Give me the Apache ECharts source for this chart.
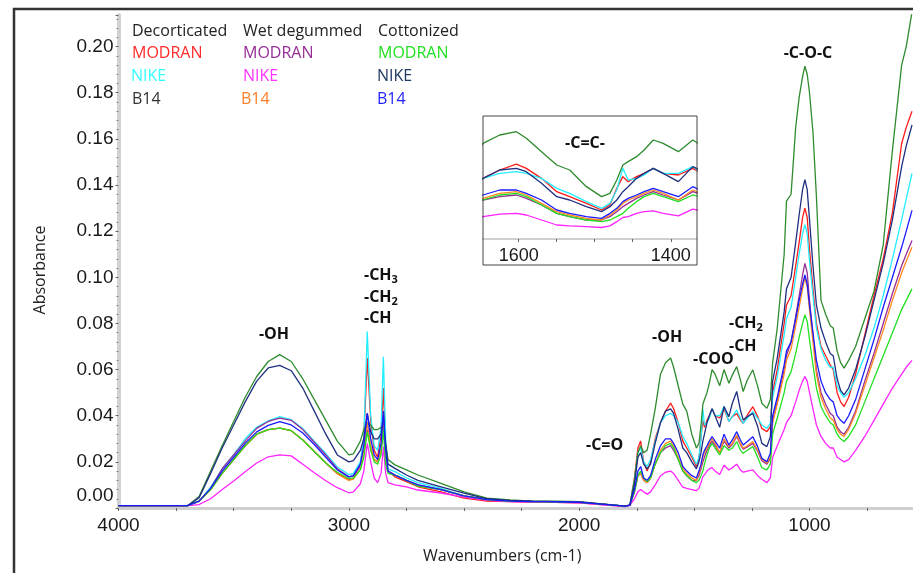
<!DOCTYPE html>
<html><head><meta charset="utf-8">
<script src="https://cdn.jsdelivr.net/npm/echarts@6/dist/echarts.min.js"></script>
<style>html,body{margin:0;padding:0;background:#fff}#c{width:913px;height:573px}</style>
</head><body><div id="c"></div>
<script>
// ---- DATA ----
const wavenumbers = [4000,3800,3700,3650,3600,3550,3500,3450,3400,3350,3300,3250,3200,3150,3100,3050,3000,
2980,2950,2935,2920,2905,2890,2875,2860,2850,2840,2830,
2800,2750,2700,2600,2500,2400,2300,2200,2100,2000,1900,1800,1780,
1760,1745,1733,1720,1705,1690,1670,
1647,1625,1603,1590,1570,1550,1533,1511,1491,1480,1471,1463,1456,1445,1435,1423,1410,1390,1371,
1350,1335,1316,1300,1288,1270,1246,1225,1207,1185,1170,
1160,1140,1110,1100,1080,1060,1045,1030,1020,1010,1000,985,970,950,930,910,897,880,865,850,830,800,760,720,680,640,600,580,555];

const decorticatedModran = [0.001,0.001,0.001,0.003,0.008,0.015,0.021,0.027,0.032,0.034,0.0346,0.0335,0.0295,0.0245,0.0195,0.015,0.0122,
0.013,0.019,0.030,0.065,0.038,0.025,0.022,0.032,0.052,0.026,0.016,
0.0135,0.0114,0.0092,0.007,0.0043,0.003,0.0028,0.0025,0.0025,0.0022,0.0015,0.0008,0.0012,
0.013,0.026,0.029,0.020,0.016,0.020,0.030,
0.037,0.042,0.0455,0.043,0.037,0.029,0.026,0.022,0.018,0.021,0.031,0.038,0.035,0.038,0.040,0.043,0.040,0.039,0.043,
0.0375,0.0396,0.041,0.0382,0.0367,0.0403,0.0439,0.0396,0.0345,0.0331,0.0353,
0.050,0.060,0.080,0.088,0.092,0.105,0.115,0.126,0.130,0.126,0.112,0.095,0.080,0.070,0.066,0.062,0.060,0.050,0.046,0.044,0.048,0.058,0.075,0.092,0.108,0.128,0.158,0.165,0.172];

const decorticatedNike = [0.001,0.001,0.001,0.003,0.009,0.017,0.023,0.030,0.035,0.0378,0.0396,0.0383,0.0345,0.029,0.0236,0.0178,0.0145,
0.015,0.020,0.030,0.0765,0.040,0.027,0.025,0.035,0.0656,0.030,0.017,
0.0158,0.013,0.011,0.0085,0.0053,0.0036,0.003,0.0028,0.0027,0.0025,0.0017,0.0008,0.0012,
0.012,0.024,0.026,0.020,0.018,0.021,0.029,
0.037,0.040,0.041,0.040,0.037,0.031,0.028,0.023,0.019,0.022,0.030,0.043,0.036,0.037,0.039,0.043,0.040,0.040,0.044,
0.0375,0.0396,0.0425,0.0389,0.0367,0.0389,0.0418,0.0389,0.036,0.0345,0.0367,
0.048,0.057,0.075,0.082,0.087,0.100,0.110,0.119,0.1228,0.119,0.107,0.092,0.078,0.069,0.064,0.061,0.061,0.053,0.050,0.048,0.050,0.056,0.066,0.078,0.092,0.108,0.125,0.134,0.145];

const decorticatedB14 = [0.001,0.001,0.001,0.005,0.016,0.027,0.0375,0.048,0.057,0.0635,0.0665,0.0635,0.056,0.047,0.038,0.029,0.023,
0.0235,0.029,0.034,0.037,0.036,0.034,0.034,0.035,0.034,0.028,0.021,
0.0187,0.0165,0.0143,0.0107,0.007,0.0043,0.0035,0.003,0.003,0.0028,0.0018,0.0008,0.0012,
0.012,0.024,0.027,0.024,0.025,0.032,0.043,
0.058,0.063,0.065,0.061,0.053,0.045,0.042,0.032,0.026,0.028,0.036,0.045,0.047,0.050,0.054,0.060,0.058,0.053,0.060,
0.0541,0.0577,0.0613,0.0555,0.0505,0.0555,0.0599,0.0527,0.0454,0.0432,0.0469,
0.063,0.078,0.110,0.133,0.136,0.165,0.178,0.187,0.1915,0.188,0.180,0.163,0.135,0.090,0.084,0.079,0.078,0.068,0.063,0.0606,0.064,0.070,0.082,0.094,0.114,0.155,0.192,0.200,0.215];

const wetModran = [0.001,0.001,0.001,0.003,0.0085,0.017,0.023,0.029,0.0345,0.0375,0.039,0.038,0.034,0.0285,0.023,0.017,0.0135,
0.014,0.018,0.024,0.034,0.026,0.021,0.020,0.025,0.035,0.022,0.016,
0.0143,0.012,0.010,0.008,0.0053,0.0036,0.003,0.0028,0.0027,0.0025,0.0017,0.0008,0.0012,
0.007,0.014,0.015,0.012,0.011,0.013,0.019,
0.024,0.026,0.027,0.025,0.021,0.016,0.014,0.012,0.012,0.014,0.017,0.020,0.022,0.025,0.027,0.029,0.027,0.024,0.029,
0.026,0.0275,0.031,0.0275,0.0255,0.0265,0.028,0.0245,0.0205,0.019,0.0215,
0.038,0.046,0.060,0.066,0.072,0.083,0.092,0.101,0.106,0.102,0.090,0.075,0.060,0.050,0.045,0.041,0.040,0.035,0.033,0.032,0.035,0.042,0.055,0.067,0.080,0.093,0.105,0.110,0.116];

const wetNike = [0.001,0.001,0.001,0.0015,0.004,0.008,0.0117,0.0157,0.0195,0.0222,0.023,0.0226,0.019,0.0153,0.0118,0.0088,0.0066,
0.007,0.0105,0.016,0.028,0.020,0.013,0.011,0.015,0.0266,0.015,0.011,
0.010,0.0092,0.0078,0.0065,0.0047,0.0033,0.0028,0.0026,0.0025,0.0022,0.0014,0.0006,0.001,
0.004,0.007,0.008,0.007,0.006,0.007,0.010,
0.014,0.0155,0.016,0.015,0.012,0.009,0.0085,0.008,0.0075,0.0085,0.011,0.0135,0.014,0.016,0.017,0.0175,0.016,0.0145,0.0185,
0.0165,0.0175,0.019,0.0165,0.0155,0.016,0.0165,0.014,0.0125,0.011,0.013,
0.022,0.027,0.034,0.037,0.040,0.046,0.051,0.055,0.057,0.055,0.050,0.043,0.036,0.031,0.028,0.026,0.026,0.022,0.021,0.020,0.021,0.025,0.031,0.038,0.045,0.052,0.058,0.061,0.064];

const wetB14 = [0.001,0.001,0.001,0.003,0.008,0.015,0.021,0.027,0.032,0.034,0.0346,0.0335,0.0295,0.0245,0.0195,0.0148,0.012,
0.0125,0.017,0.024,0.037,0.027,0.021,0.020,0.025,0.038,0.022,0.016,
0.0143,0.012,0.0095,0.008,0.0053,0.0036,0.003,0.0028,0.0027,0.0025,0.0017,0.0008,0.0012,
0.007,0.014,0.015,0.012,0.011,0.013,0.019,
0.025,0.028,0.029,0.027,0.022,0.017,0.015,0.013,0.012,0.015,0.018,0.022,0.024,0.026,0.028,0.030,0.028,0.024,0.030,
0.0266,0.028,0.0316,0.028,0.0259,0.027,0.0288,0.025,0.021,0.0195,0.022,
0.037,0.045,0.058,0.064,0.069,0.079,0.087,0.095,0.0998,0.096,0.086,0.072,0.058,0.048,0.043,0.039,0.038,0.034,0.032,0.031,0.034,0.041,0.053,0.065,0.077,0.090,0.102,0.107,0.113];

const cottonizedModran = [0.001,0.001,0.001,0.003,0.008,0.015,0.021,0.027,0.032,0.034,0.0346,0.0335,0.0295,0.0245,0.0195,0.0155,0.0128,
0.013,0.0165,0.022,0.033,0.025,0.020,0.019,0.023,0.034,0.019,0.015,
0.0143,0.012,0.0095,0.008,0.0053,0.0036,0.003,0.0028,0.0027,0.0025,0.0017,0.0008,0.0012,
0.007,0.014,0.016,0.013,0.0115,0.013,0.019,
0.024,0.027,0.028,0.026,0.021,0.016,0.014,0.012,0.011,0.012,0.014,0.016,0.019,0.023,0.026,0.028,0.026,0.023,0.027,
0.025,0.026,0.0288,0.025,0.0237,0.025,0.0266,0.022,0.0175,0.0165,0.019,
0.032,0.039,0.050,0.055,0.059,0.067,0.074,0.080,0.0837,0.081,0.073,0.062,0.052,0.044,0.040,0.037,0.036,0.032,0.030,0.0288,0.031,0.036,0.046,0.056,0.066,0.076,0.086,0.090,0.095];

const cottonizedNike = [0.001,0.001,0.001,0.0045,0.015,0.026,0.036,0.046,0.055,0.0607,0.0618,0.0595,0.052,0.042,0.032,0.023,0.020,
0.0205,0.025,0.030,0.041,0.033,0.030,0.030,0.032,0.040,0.027,0.019,
0.0172,0.0143,0.012,0.0092,0.0064,0.004,0.0033,0.003,0.0028,0.0026,0.0017,0.0008,0.0012,
0.010,0.022,0.024,0.019,0.017,0.019,0.028,
0.037,0.042,0.043,0.041,0.034,0.026,0.024,0.020,0.017,0.020,0.024,0.029,0.032,0.037,0.040,0.043,0.040,0.035,0.044,
0.0396,0.0454,0.0505,0.0425,0.0382,0.0396,0.041,0.0353,0.028,0.0266,0.0309,
0.055,0.065,0.085,0.095,0.100,0.115,0.127,0.138,0.1423,0.138,0.125,0.105,0.088,0.078,0.072,0.067,0.066,0.056,0.051,0.049,0.052,0.060,0.074,0.090,0.106,0.125,0.148,0.157,0.166];

const cottonizedB14 = [0.001,0.001,0.001,0.003,0.0085,0.016,0.022,0.028,0.033,0.0358,0.0374,0.036,0.0325,0.0275,0.022,0.0165,0.0135,
0.014,0.019,0.027,0.041,0.030,0.023,0.021,0.028,0.042,0.025,0.016,
0.0143,0.012,0.010,0.008,0.0053,0.0036,0.003,0.0028,0.0027,0.0025,0.0017,0.0008,0.0012,
0.008,0.016,0.018,0.013,0.012,0.014,0.021,
0.027,0.030,0.030,0.028,0.024,0.018,0.016,0.014,0.013,0.016,0.019,0.023,0.025,0.027,0.029,0.031,0.029,0.026,0.032,
0.0273,0.0295,0.0331,0.0295,0.0273,0.0288,0.0309,0.0266,0.0215,0.0201,0.0237,
0.040,0.048,0.062,0.068,0.072,0.082,0.090,0.097,0.101,0.097,0.088,0.076,0.064,0.055,0.050,0.047,0.046,0.040,0.038,0.0367,0.040,0.047,0.060,0.073,0.087,0.100,0.113,0.120,0.129];

const xTickLabels = [4000, 3000, 2000, 1000];
const xTickMarks = [4000,3750,3500,3250,3000,2750,2500,2250,2000,1750,1500,1250,1000,750];
const insetTickLabels = [1600, 1400];
const insetTickMarks = [1600, 1550, 1500, 1450, 1400];

// ---- SERIES DEFINITIONS ----
const seriesDefs = [
  {name:'Decorticated MODRAN', data: decorticatedModran, color:'#ff1a1a'},
  {name:'Decorticated NIKE', data: decorticatedNike, color:'#22eeff'},
  {name:'Decorticated B14', data: decorticatedB14, color:'#2e8b2e'},
  {name:'Wet degummed MODRAN', data: wetModran, color:'#962d96'},
  {name:'Wet degummed NIKE', data: wetNike, color:'#ff22ff'},
  {name:'Wet degummed B14', data: wetB14, color:'#ff8a1f'},
  {name:'Cottonized MODRAN', data: cottonizedModran, color:'#22e022'},
  {name:'Cottonized NIKE', data: cottonizedNike, color:'#1f2f80'},
  {name:'Cottonized B14', data: cottonizedB14, color:'#1a1aff'}
];

const pairs = arr => wavenumbers.map((w, i) => [w, arr[i]]);
const series = [];
seriesDefs.forEach(d => {
  series.push({type:'line', name:d.name, data:pairs(d.data), showSymbol:false, xAxisIndex:0, yAxisIndex:0,
    lineStyle:{color:d.color, width:1.3}, itemStyle:{color:d.color}, clip:true, silent:true});
});
seriesDefs.forEach(d => {
  series.push({type:'line', name:d.name + ' (inset)', data:pairs(d.data), showSymbol:false, xAxisIndex:1, yAxisIndex:1,
    lineStyle:{color:d.color, width:1.3}, itemStyle:{color:d.color}, clip:true, silent:true});
});

const axisFont = '"Liberation Sans", Arial, sans-serif';
const txtFont = '"Open Sans", sans-serif';

function label(x, y, text, color, extra) {
  return Object.assign({type:'text', x:x, y:y, z:100,
    style:{text:text, fill:color, font:'16px ' + txtFont, align:'left', verticalAlign:'middle'}}, extra || {});
}
const bold = '700 16px ' + txtFont;
function ann(x, y, text, align) {
  return {type:'text', x:x, y:y, z:100, style:{text:text, fill:'#111', font:bold, align:align||'left', verticalAlign:'middle',
    rich:{a:{font:bold, fill:'#111'}, s:{font:'700 11px ' + txtFont, fill:'#111', verticalAlign:'bottom', padding:[9,0,0,0]}}}};
}

const graphics = [
  {type:'rect', shape:{x:14, y:9, width:1000, height:1000}, style:{fill:'none', stroke:'#333', lineWidth:2.5}, z:100},
  {type:'rect', shape:{x:483, y:116, width:214, height:149}, style:{fill:'none', stroke:'#444', lineWidth:1}, z:100},
  label(132, 31, 'Decorticated', '#222'),
  label(243, 31, 'Wet degummed', '#222'),
  label(378, 31, 'Cottonized', '#222'),
  label(132, 53, 'MODRAN', '#ff2a2a'),
  label(243, 53, 'MODRAN', '#962d96'),
  label(378, 53, 'MODRAN', '#22e022'),
  label(131, 76, 'NIKE', '#33ffff'),
  label(243, 76, 'NIKE', '#ff33ff'),
  label(377, 76, 'NIKE', '#203864'),
  label(132, 99, 'B14', '#333'),
  label(241, 99, 'B14', '#ff7f27'),
  label(377, 99, 'B14', '#1f1fff'),
  ann(274, 334, '-OH', 'center'),
  ann(364, 275, '{a|-CH}{s|3}'),
  ann(364, 297, '{a|-CH}{s|2}'),
  ann(364, 318, '-CH'),
  ann(586, 445, '-C=O'),
  ann(652, 337, '-OH'),
  ann(693, 359, '-COO'),
  ann(729, 323, '{a|-CH}{s|2}'),
  ann(729, 346, '-CH'),
  ann(808, 53, '-C-O-C', 'center'),
  ann(585, 143, '-C=C-', 'center')
];

const chart = echarts.init(document.getElementById('c'), null, {renderer:'canvas'});
chart.setOption({
  animation:false,
  backgroundColor:'#ffffff',
  grid:[
    {left:118.5, right:1, top:15, bottom:65},
    {left:483, top:116, width:213.6, height:123}
  ],
  xAxis:[
    {type:'value', gridIndex:0, inverse:true, min:555, max:4000,
     name:'Wavenumbers (cm-1)', nameLocation:'middle', nameGap:40,
     nameTextStyle:{fontFamily:txtFont, fontSize:16, color:'#222', padding:[0,26,0,0]},
     axisLine:{lineStyle:{color:'#cfcfcf', width:3}},
     axisTick:{customValues:xTickMarks, length:3, lineStyle:{color:'#666', width:1}},
     axisLabel:{customValues:xTickLabels, fontSize:19, fontFamily:axisFont, color:'#1a1a1a', margin:8,
       formatter: v => String(v)},
     splitLine:{show:false}},
    {type:'value', gridIndex:1, inverse:true, min:1366, max:1647,
     axisLine:{lineStyle:{color:'#cfcfcf', width:2}},
     axisTick:{customValues:insetTickMarks, length:3, lineStyle:{color:'#666', width:1}},
     axisLabel:{customValues:insetTickLabels, fontSize:18, fontFamily:axisFont, color:'#1a1a1a', margin:8,
       formatter: v => String(v)},
     splitLine:{show:false}}
  ],
  yAxis:[
    {type:'value', gridIndex:0, min:0, max:0.2137, interval:0.02,
     name:'Absorbance', nameLocation:'middle', nameGap:70,
     nameTextStyle:{fontFamily:txtFont, fontSize:16, color:'#222', padding:[0,17,0,0]},
     axisLine:{show:true, lineStyle:{color:'#d2d2d2', width:4}},
     axisTick:{show:true, length:3, lineStyle:{color:'#666'}},
     minorTick:{show:true, splitNumber:5, length:2, lineStyle:{color:'#888'}},
     axisLabel:{showMaxLabel:false, fontSize:19, fontFamily:axisFont, color:'#1a1a1a', margin:5,
       formatter: v => v === 0 ? '{z|0.00}' : v.toFixed(2),
       rich:{z:{fontSize:19, fontFamily:axisFont, color:'#1a1a1a', padding:[0,0,24,0]}}},
     splitLine:{show:false}},
    {type:'value', gridIndex:1, min:0.0006, max:0.0744, show:false, splitLine:{show:false}}
  ],
  series: series,
  graphic: graphics
});
</script>
</body></html>
